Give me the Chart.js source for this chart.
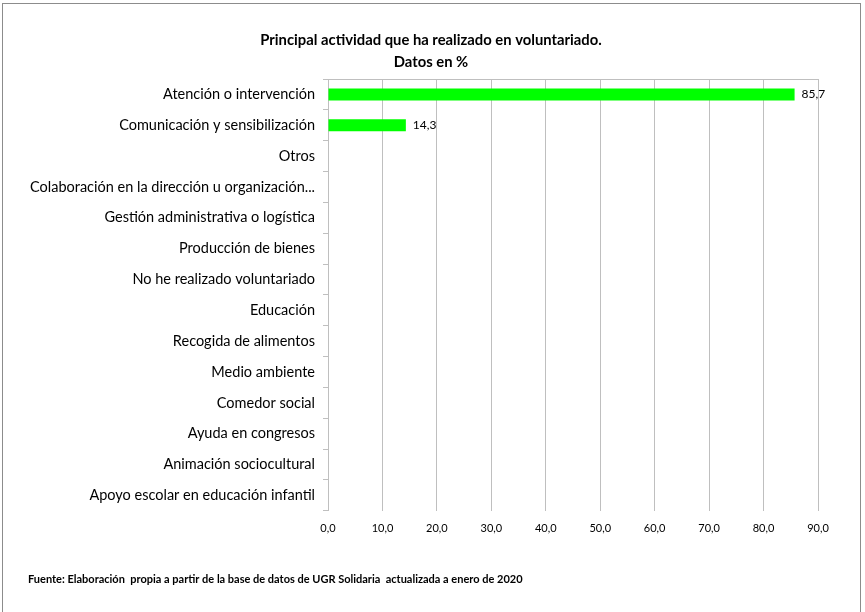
<!DOCTYPE html>
<html>
<head>
<meta charset="utf-8">
<script src="https://cdn.jsdelivr.net/npm/chart.js@4/dist/chart.umd.min.js"></script>
<style>
  html, body { margin: 0; padding: 0; background: #fff; }
  #wrap { position: relative; width: 865px; height: 612px; }
  #frame { position: absolute; left: 2px; top: 3px; width: 859px; height: 640px; border: 1px solid #8c8c8c; box-sizing: border-box; pointer-events: none; }
  canvas { position: absolute; left: 0; top: 0; }
</style>
</head>
<body>
<div id="wrap">
  <canvas id="c" width="865" height="612"></canvas>
  <div id="frame"></div>
</div>
<script>
const categories = [
  'Atención o intervención',
  'Comunicación y sensibilización',
  'Otros',
  'Colaboración en la dirección u organización...',
  'Gestión administrativa o logística',
  'Producción de bienes',
  'No he realizado voluntariado',
  'Educación',
  'Recogida de alimentos',
  'Medio ambiente',
  'Comedor social',
  'Ayuda en congresos',
  'Animación sociocultural',
  'Apoyo escolar en educación infantil'
];
const values = [85.7, 14.3, null, null, null, null, null, null, null, null, null, null, null, null];
const xTicks = [0, 10, 20, 30, 40, 50, 60, 70, 80, 90];
const titleLines = ['Principal actividad que ha realizado en voluntariado.', 'Datos en %'];
const footerText = 'Fuente: Elaboración  propia a partir de la base de datos de UGR Solidaria  actualizada a enero de 2020';

const FONT = "Lato, 'Liberation Sans', Arial, sans-serif";
const fmt = v => v.toFixed(1).replace('.', ',');

const extras = {
  id: 'extras',
  afterDatasetsDraw(chart) {
    const ctx = chart.ctx;
    const area = chart.chartArea;
    ctx.save();
    ctx.strokeStyle = '#bfbfbf';
    ctx.lineWidth = 1;
    ctx.beginPath();
    ctx.moveTo(area.left, Math.round(area.top) + 0.5);
    ctx.lineTo(area.right, Math.round(area.top) + 0.5);
    ctx.stroke();
    const meta = chart.getDatasetMeta(0);
    ctx.fillStyle = '#000';
    ctx.font = '12px ' + FONT;
    ctx.textBaseline = 'middle';
    ctx.textAlign = 'left';
    meta.data.forEach((bar, i) => {
      const v = values[i];
      if (v === null || v === undefined) return;
      ctx.fillText(fmt(v), bar.x + 7, bar.y);
    });
    // title
    ctx.font = 'bold 14.8px ' + FONT;
    ctx.textAlign = 'center';
    ctx.fillText(titleLines[0], 431, 40);
    ctx.fillText(titleLines[1], 431, 62);
    // footer
    ctx.textAlign = 'left';
    ctx.font = 'bold 11px ' + FONT;
    ctx.fillText(footerText, 28, 579);
    ctx.restore();
  }
};

new Chart(document.getElementById('c'), {
  type: 'bar',
  data: {
    labels: categories,
    datasets: [{
      data: values,
      backgroundColor: '#00FF00',
      borderWidth: 0,
      categoryPercentage: 1,
      barPercentage: 0.39
    }]
  },
  options: {
    indexAxis: 'y',
    responsive: false,
    animation: false,
    devicePixelRatio: 1,
    layout: { padding: { left: 0, right: 47, top: 79, bottom: 66 } },
    plugins: {
      legend: { display: false },
      tooltip: { enabled: false },
      title: { display: false }
    },
    scales: {
      x: {
        min: 0, max: 90,
        afterBuildTicks(scale) { scale.ticks = xTicks.map(v => ({ value: v })); },
        ticks: {
          color: '#000',
          font: { family: FONT, size: 11 },
          padding: 11,
          callback: v => fmt(v)
        },
        grid: { color: '#bfbfbf', tickLength: 0, drawTicks: false },
        border: { display: false }
      },
      y: {
        afterFit(scale) { scale.width = 328; },
        ticks: {
          color: '#000',
          font: { family: FONT, size: 14.5 },
          padding: 8
        },
        grid: { drawOnChartArea: false, color: '#bfbfbf', tickLength: 5, offset: true },
        border: { display: true, color: '#bfbfbf' }
      }
    }
  },
  plugins: [extras]
});
</script>
</body>
</html>
